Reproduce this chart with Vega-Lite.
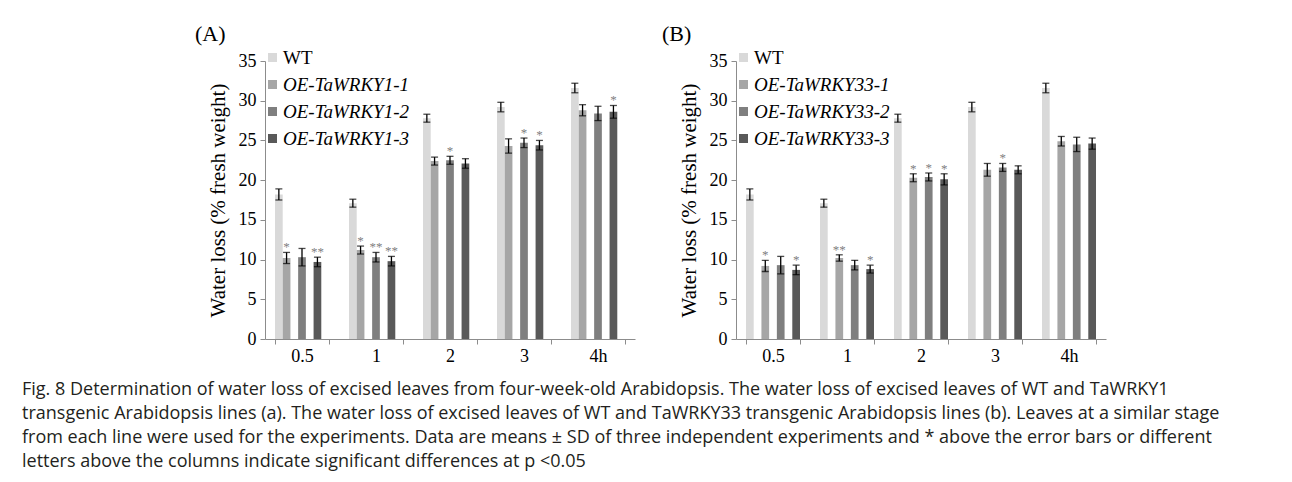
{
  "$schema": "https://vega.github.io/schema/vega-lite/v6.json",
  "padding": {"left": 22, "top": 23, "right": 5, "bottom": 5},
  "background": "white",
  "datasets": {
    "A": [
      {"time": "0.5", "line": "WT", "value": 18.2, "lo": 17.5, "hi": 18.9, "sig": ""},
      {"time": "0.5", "line": "OE-TaWRKY1-1", "value": 10.2, "lo": 9.5, "hi": 10.9, "sig": "*"},
      {"time": "0.5", "line": "OE-TaWRKY1-2", "value": 10.3, "lo": 9.2, "hi": 11.4, "sig": ""},
      {"time": "0.5", "line": "OE-TaWRKY1-3", "value": 9.7, "lo": 9.1, "hi": 10.3, "sig": "**"},
      {"time": "1", "line": "WT", "value": 17.1, "lo": 16.6, "hi": 17.6, "sig": ""},
      {"time": "1", "line": "OE-TaWRKY1-1", "value": 11.2, "lo": 10.7, "hi": 11.7, "sig": "*"},
      {"time": "1", "line": "OE-TaWRKY1-2", "value": 10.3, "lo": 9.7, "hi": 10.9, "sig": "**"},
      {"time": "1", "line": "OE-TaWRKY1-3", "value": 9.8, "lo": 9.2, "hi": 10.4, "sig": "**"},
      {"time": "2", "line": "WT", "value": 27.8, "lo": 27.3, "hi": 28.3, "sig": ""},
      {"time": "2", "line": "OE-TaWRKY1-1", "value": 22.4, "lo": 21.9, "hi": 22.9, "sig": ""},
      {"time": "2", "line": "OE-TaWRKY1-2", "value": 22.5, "lo": 22.0, "hi": 23.0, "sig": "*"},
      {"time": "2", "line": "OE-TaWRKY1-3", "value": 22.1, "lo": 21.5, "hi": 22.7, "sig": ""},
      {"time": "3", "line": "WT", "value": 29.2, "lo": 28.6, "hi": 29.8, "sig": ""},
      {"time": "3", "line": "OE-TaWRKY1-1", "value": 24.3, "lo": 23.4, "hi": 25.2, "sig": ""},
      {"time": "3", "line": "OE-TaWRKY1-2", "value": 24.7, "lo": 24.1, "hi": 25.3, "sig": "*"},
      {"time": "3", "line": "OE-TaWRKY1-3", "value": 24.4, "lo": 23.8, "hi": 25.0, "sig": "*"},
      {"time": "4h", "line": "WT", "value": 31.6, "lo": 31.0, "hi": 32.2, "sig": ""},
      {"time": "4h", "line": "OE-TaWRKY1-1", "value": 28.8, "lo": 28.1, "hi": 29.5, "sig": ""},
      {"time": "4h", "line": "OE-TaWRKY1-2", "value": 28.4, "lo": 27.5, "hi": 29.3, "sig": ""},
      {"time": "4h", "line": "OE-TaWRKY1-3", "value": 28.6, "lo": 27.8, "hi": 29.4, "sig": "*"}
    ],
    "B": [
      {"time": "0.5", "line": "WT", "value": 18.2, "lo": 17.5, "hi": 18.9, "sig": ""},
      {"time": "0.5", "line": "OE-TaWRKY33-1", "value": 9.2, "lo": 8.5, "hi": 9.9, "sig": "*"},
      {"time": "0.5", "line": "OE-TaWRKY33-2", "value": 9.3, "lo": 8.2, "hi": 10.4, "sig": ""},
      {"time": "0.5", "line": "OE-TaWRKY33-3", "value": 8.7, "lo": 8.1, "hi": 9.3, "sig": "*"},
      {"time": "1", "line": "WT", "value": 17.1, "lo": 16.6, "hi": 17.6, "sig": ""},
      {"time": "1", "line": "OE-TaWRKY33-1", "value": 10.2, "lo": 9.8, "hi": 10.6, "sig": "**"},
      {"time": "1", "line": "OE-TaWRKY33-2", "value": 9.3, "lo": 8.7, "hi": 9.9, "sig": ""},
      {"time": "1", "line": "OE-TaWRKY33-3", "value": 8.8, "lo": 8.3, "hi": 9.3, "sig": "*"},
      {"time": "2", "line": "WT", "value": 27.8, "lo": 27.3, "hi": 28.3, "sig": ""},
      {"time": "2", "line": "OE-TaWRKY33-1", "value": 20.3, "lo": 19.8, "hi": 20.8, "sig": "*"},
      {"time": "2", "line": "OE-TaWRKY33-2", "value": 20.4, "lo": 19.9, "hi": 20.9, "sig": "*"},
      {"time": "2", "line": "OE-TaWRKY33-3", "value": 20.1, "lo": 19.4, "hi": 20.8, "sig": "*"},
      {"time": "3", "line": "WT", "value": 29.2, "lo": 28.6, "hi": 29.8, "sig": ""},
      {"time": "3", "line": "OE-TaWRKY33-1", "value": 21.3, "lo": 20.5, "hi": 22.1, "sig": ""},
      {"time": "3", "line": "OE-TaWRKY33-2", "value": 21.6, "lo": 21.1, "hi": 22.1, "sig": "*"},
      {"time": "3", "line": "OE-TaWRKY33-3", "value": 21.3, "lo": 20.8, "hi": 21.8, "sig": ""},
      {"time": "4h", "line": "WT", "value": 31.6, "lo": 31.0, "hi": 32.2, "sig": ""},
      {"time": "4h", "line": "OE-TaWRKY33-1", "value": 24.9, "lo": 24.3, "hi": 25.5, "sig": ""},
      {"time": "4h", "line": "OE-TaWRKY33-2", "value": 24.5, "lo": 23.6, "hi": 25.4, "sig": ""},
      {"time": "4h", "line": "OE-TaWRKY33-3", "value": 24.6, "lo": 23.9, "hi": 25.3, "sig": ""}
    ]
  },
  "title": {
    "text": [
      "Fig. 8 Determination of water loss of excised leaves from four-week-old Arabidopsis. The water loss of excised leaves of WT and TaWRKY1",
      "transgenic Arabidopsis lines (a). The water loss of excised leaves of WT and TaWRKY33 transgenic Arabidopsis lines (b). Leaves at a similar stage",
      "from each line were used for the experiments. Data are means ± SD of three independent experiments and * above the error bars or different",
      "letters above the columns indicate significant differences at p <0.05"
    ],
    "orient": "bottom",
    "anchor": "start",
    "frame": "group",
    "font": "Open Sans",
    "fontSize": 18,
    "fontWeight": "normal",
    "color": "#231f20",
    "lineHeight": 24,
    "offset": 16,
    "dx": -243
  },
  "spacing": 27,
  "resolve": {"scale": {"color": "independent"}},
  "hconcat": [
    {
      "title": {"text": "(A)", "anchor": "start", "frame": "group", "dx": -70, "offset": 2},
      "width": 370,
      "height": 278,
      "data": {"name": "A"},
      "encoding": {
        "x": {"field": "time", "type": "nominal", "sort": ["0.5", "1", "2", "3", "4h"], "title": null,
              "scale": {"paddingInner": 0.27, "paddingOuter": 0.135}},
        "xOffset": {"field": "line", "type": "nominal", "sort": ["WT", "OE-TaWRKY1-1", "OE-TaWRKY1-2", "OE-TaWRKY1-3"],
                    "scale": {"paddingInner": 0, "paddingOuter": 0}}
      },
      "layer": [
        {
          "mark": {"type": "bar"},
          "encoding": {
            "y": {"field": "value", "type": "quantitative", "title": "Water loss (% fresh weight)",
                  "scale": {"domain": [0, 35]}, "axis": {"values": [0, 5, 10, 15, 20, 25, 30, 35], "labelOverlap": false}},
            "color": {"field": "line", "type": "nominal",
                      "scale": {"domain": ["WT", "OE-TaWRKY1-1", "OE-TaWRKY1-2", "OE-TaWRKY1-3"], "range": ["#d9d9d9", "#a6a6a6", "#7f7f7f", "#595959"]},
                      "legend": {"orient": "none", "legendX": -2, "legendY": -13, "title": null,
                                 "labelFontStyle": {"expr": "datum.value == 'WT' ? 'normal' : 'italic'"}}}
          }
        },
        {
          "mark": {"type": "rule", "color": "black", "strokeWidth": 1.3},
          "encoding": {"y": {"field": "lo", "type": "quantitative", "title": "Water loss (% fresh weight)", "axis": {"values": [0, 5, 10, 15, 20, 25, 30, 35], "labelOverlap": false}}, "y2": {"field": "hi"}}
        },
        {
          "mark": {"type": "tick", "color": "black", "orient": "horizontal", "size": 7, "thickness": 1.3},
          "encoding": {"y": {"field": "lo", "type": "quantitative", "title": "Water loss (% fresh weight)", "axis": {"values": [0, 5, 10, 15, 20, 25, 30, 35], "labelOverlap": false}}}
        },
        {
          "mark": {"type": "tick", "color": "black", "orient": "horizontal", "size": 7, "thickness": 1.3},
          "encoding": {"y": {"field": "hi", "type": "quantitative", "title": "Water loss (% fresh weight)", "axis": {"values": [0, 5, 10, 15, 20, 25, 30, 35], "labelOverlap": false}}}
        },
        {
          "mark": {"type": "text", "color": "#808080", "fontSize": 13, "baseline": "alphabetic", "dy": -1, "font": "Liberation Serif"},
          "encoding": {"y": {"field": "hi", "type": "quantitative", "title": "Water loss (% fresh weight)", "axis": {"values": [0, 5, 10, 15, 20, 25, 30, 35], "labelOverlap": false}}, "text": {"field": "sig"}}
        }
      ]
    },
    {
      "title": {"text": "(B)", "anchor": "start", "frame": "group", "dx": -74, "offset": 2},
      "width": 370,
      "height": 278,
      "data": {"name": "B"},
      "encoding": {
        "x": {"field": "time", "type": "nominal", "sort": ["0.5", "1", "2", "3", "4h"], "title": null,
              "scale": {"paddingInner": 0.27, "paddingOuter": 0.135}},
        "xOffset": {"field": "line", "type": "nominal", "sort": ["WT", "OE-TaWRKY33-1", "OE-TaWRKY33-2", "OE-TaWRKY33-3"],
                    "scale": {"paddingInner": 0, "paddingOuter": 0}}
      },
      "layer": [
        {
          "mark": {"type": "bar"},
          "encoding": {
            "y": {"field": "value", "type": "quantitative", "title": "Water loss (% fresh weight)",
                  "scale": {"domain": [0, 35]}, "axis": {"values": [0, 5, 10, 15, 20, 25, 30, 35], "labelOverlap": false}},
            "color": {"field": "line", "type": "nominal",
                      "scale": {"domain": ["WT", "OE-TaWRKY33-1", "OE-TaWRKY33-2", "OE-TaWRKY33-3"], "range": ["#d9d9d9", "#a6a6a6", "#7f7f7f", "#595959"]},
                      "legend": {"orient": "none", "legendX": -2, "legendY": -13, "title": null,
                                 "labelFontStyle": {"expr": "datum.value == 'WT' ? 'normal' : 'italic'"}}}
          }
        },
        {
          "mark": {"type": "rule", "color": "black", "strokeWidth": 1.3},
          "encoding": {"y": {"field": "lo", "type": "quantitative", "title": "Water loss (% fresh weight)", "axis": {"values": [0, 5, 10, 15, 20, 25, 30, 35], "labelOverlap": false}}, "y2": {"field": "hi"}}
        },
        {
          "mark": {"type": "tick", "color": "black", "orient": "horizontal", "size": 7, "thickness": 1.3},
          "encoding": {"y": {"field": "lo", "type": "quantitative", "title": "Water loss (% fresh weight)", "axis": {"values": [0, 5, 10, 15, 20, 25, 30, 35], "labelOverlap": false}}}
        },
        {
          "mark": {"type": "tick", "color": "black", "orient": "horizontal", "size": 7, "thickness": 1.3},
          "encoding": {"y": {"field": "hi", "type": "quantitative", "title": "Water loss (% fresh weight)", "axis": {"values": [0, 5, 10, 15, 20, 25, 30, 35], "labelOverlap": false}}}
        },
        {
          "mark": {"type": "text", "color": "#808080", "fontSize": 13, "baseline": "alphabetic", "dy": -1, "font": "Liberation Serif"},
          "encoding": {"y": {"field": "hi", "type": "quantitative", "title": "Water loss (% fresh weight)", "axis": {"values": [0, 5, 10, 15, 20, 25, 30, 35], "labelOverlap": false}}, "text": {"field": "sig"}}
        }
      ]
    }
  ],
  "config": {
    "view": {"stroke": null},
    "font": "Liberation Serif",
    "title": {"font": "Liberation Serif", "fontSize": 22, "fontWeight": "normal", "color": "black"},
    "axis": {
      "domainColor": "#8c8c8c", "tickColor": "#8c8c8c", "tickSize": 5, "grid": false,
      "labelFont": "Liberation Serif", "labelFontSize": 18, "labelColor": "black",
      "titleFont": "Liberation Serif", "titleFontSize": 21, "titleFontWeight": "normal", "titleColor": "black"
    },
    "axisX": {"labelAngle": 0, "tickBand": "extent", "labelPadding": 3},
    "axisY": {"labelPadding": 4, "titlePadding": 10},
    "legend": {
      "symbolType": "square", "symbolSize": 81, "symbolStrokeWidth": 0, "labelFont": "Liberation Serif",
      "labelFontSize": 19, "labelColor": "black", "rowPadding": 7, "labelOffset": 1, "padding": 0
    }
  }
}
